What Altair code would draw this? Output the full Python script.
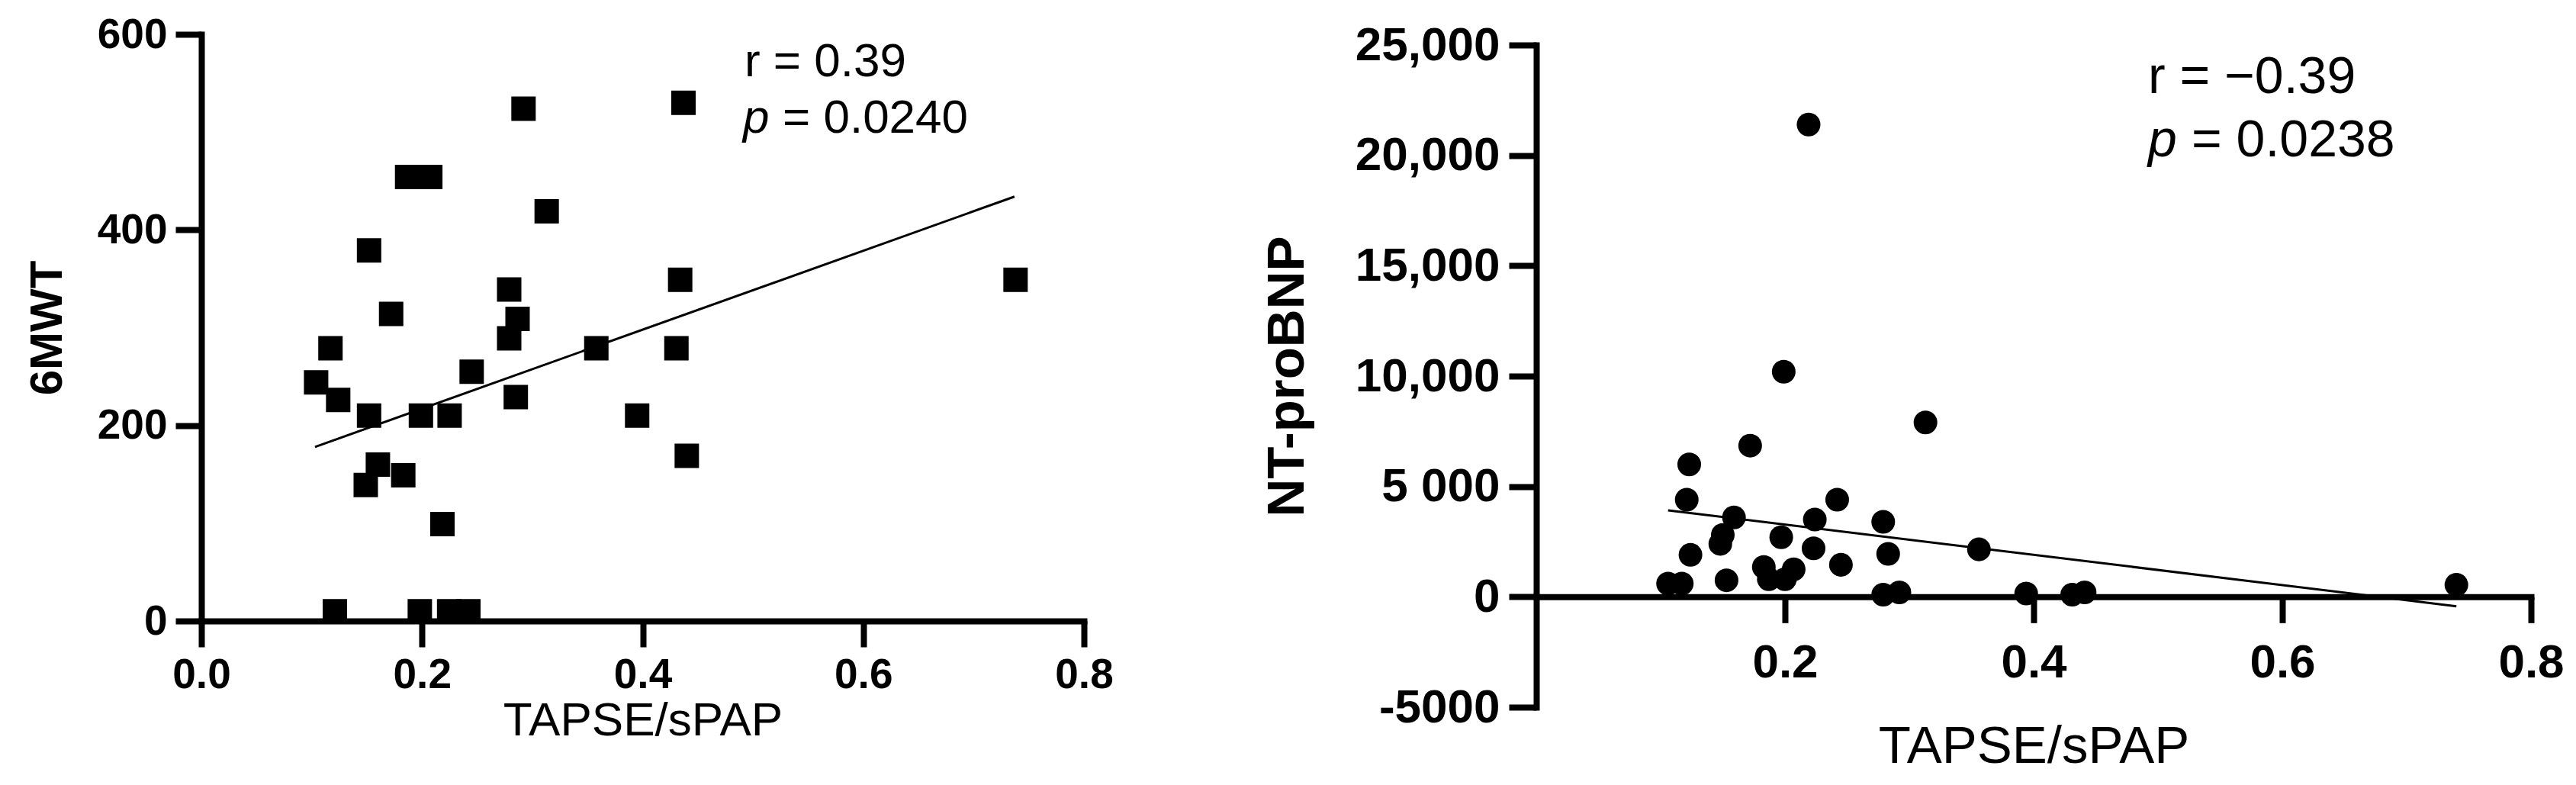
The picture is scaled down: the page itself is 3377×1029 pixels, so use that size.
import altair as alt
import pandas as pd

# ---------------- data ----------------
# Left panel: TAPSE/sPAP vs 6MWT
tapse_6mwt = [0.104, 0.117, 0.124, 0.149, 0.152, 0.152, 0.160, 0.172, 0.183, 0.1865,
              0.2075, 0.199, 0.2185, 0.225, 0.245, 0.279, 0.279, 0.2866, 0.285, 0.292,
              0.313, 0.358, 0.395, 0.4306, 0.434, 0.437, 0.440, 0.738, 0.121, 0.198,
              0.2246, 0.242]
mwt6 = [244, 279, 226, 139, 210, 379, 160, 314, 149, 454,
        454, 210, 99, 210, 255, 339, 289, 309, 229, 524,
        419, 279, 210, 279, 349, 530, 169, 349, 10, 10,
        10, 10]
# fitted line as drawn in the figure (end points)
fit_left_x = [0.103, 0.737]
fit_left_y = [178, 434]

# Right panel: TAPSE/sPAP vs NT-proBNP
tapse_bnp = [0.219, 0.199, 0.313, 0.172, 0.123, 0.121, 0.242, 0.159, 0.224, 0.279,
             0.150, 0.148, 0.197, 0.223, 0.356, 0.124, 0.283, 0.245, 0.183, 0.207,
             0.187, 0.200, 0.153, 0.106, 0.117, 0.740, 0.279, 0.292, 0.394, 0.431,
             0.441]
ntprobnp = [21400, 10200, 7900, 6850, 6000, 4400, 4400, 3600, 3500, 3400,
            2800, 2400, 2700, 2200, 2150, 1900, 1950, 1450, 1350, 1250,
            800, 800, 750, 600, 600, 550, 100, 200, 150, 100,
            200]
fit_right_x = [0.106, 0.740]
fit_right_y = [3920, -430]

left_r_text = ["r = 0.39"]
left_p_value = ["= 0.0240"]
right_r_text = ["r = \u22120.39"]
right_p_value = ["= 0.0238"]
p_letter = ["p"]

x_ticks_left = [0.0, 0.2, 0.4, 0.6, 0.8]
y_ticks_left = [0, 200, 400, 600]
x_ticks_right = [0.2, 0.4, 0.6, 0.8]
y_ticks_right = [-5000, 0, 5000, 10000, 15000, 20000, 25000]
y_labels_right = ["-5000", "0", "5 000", "10,000", "15,000", "20,000", "25,000"]

FONT = "Liberation Sans"
LW, LH = 1157, 769
RW, RH = 1304, 868
RTOP = 14  # right plot area starts a little lower than the left one

# ---------------- left panel ----------------
left_df = pd.DataFrame({"x": tapse_6mwt, "y": mwt6})
left_fit = pd.DataFrame({"x": fit_left_x, "y": fit_left_y})

lx = alt.X("x:Q", scale=alt.Scale(domain=[0, 0.8], nice=False, zero=False),
           axis=alt.Axis(values=x_ticks_left, format=".1f", title="TAPSE/sPAP",
                         labelFontSize=55, labelFontWeight="bold", tickSize=34,
                         labelPadding=10, titleFontSize=62, titleFontWeight="normal",
                         titlePadding=2, labelFlush=False, labelLimit=0))
ly = alt.Y("y:Q", scale=alt.Scale(domain=[0, 600], nice=False),
           axis=alt.Axis(values=y_ticks_left, format="d", title="6MWT",
                         labelFontSize=55, labelFontWeight="bold", tickSize=34,
                         labelPadding=11, titleFontSize=60, titleFontWeight="bold",
                         titlePadding=34, labelFlush=False, labelLimit=0))

l_pts = alt.Chart(left_df).mark_square(size=1024, color="black", opacity=1).encode(x=lx, y=ly)
l_reg = alt.Chart(left_fit).mark_line(color="black", strokeWidth=3).encode(x=lx, y=ly)


def txt(values, xpx, ypx, size, style="normal"):
    return alt.Chart(pd.DataFrame({"t": values})).mark_text(
        align="left", baseline="alphabetic", font=FONT, fontSize=size,
        fontStyle=style, color="black").encode(
        x=alt.value(xpx), y=alt.value(ypx), text="t:N")


left = alt.layer(
    l_pts, l_reg,
    txt(left_r_text, 712, 55, 62),
    txt(p_letter, 710, 129, 62, "italic"),
    txt(left_p_value, 762, 129, 62),
).properties(width=LW, height=LH)

# ---------------- right panel ----------------
right_df = pd.DataFrame({"x": tapse_bnp, "y": ntprobnp})
right_fit = pd.DataFrame({"x": fit_right_x, "y": fit_right_y})
label_expr = " : ".join(f"datum.value == {v} ? '{l}'" for v, l in zip(y_ticks_right, y_labels_right)) + " : ''"

rx = alt.X("x:Q", scale=alt.Scale(domain=[0, 0.8], nice=False, zero=False),
           axis=alt.Axis(values=x_ticks_right, format=".1f", title="TAPSE/sPAP",
                         labelFontSize=62, labelFontWeight="bold", tickSize=34,
                         labelPadding=22, titleFontSize=69, titleFontWeight="normal",
                         titlePadding=45, offset=-RH * 5000 / 30000, labelFlush=False,
                         labelLimit=0))
ry = alt.Y("y:Q", scale=alt.Scale(domain=[-5000, 25000], nice=False, zero=False,
                                  range=[RH + RTOP, RTOP]),
           axis=alt.Axis(values=y_ticks_right, labelExpr=label_expr, title="NT-proBNP",
                         labelFontSize=62, labelFontWeight="bold", tickSize=36,
                         labelPadding=12, titleFontSize=69, titleFontWeight="bold",
                         titlePadding=92, labelFlush=False, labelLimit=0))

r_pts = alt.Chart(right_df).mark_circle(size=962, color="black", opacity=1).encode(x=rx, y=ry)
r_reg = alt.Chart(right_fit).mark_line(color="black", strokeWidth=3).encode(x=rx, y=ry)

right = alt.layer(
    r_pts, r_reg,
    txt(right_r_text, 802, 63 + RTOP, 68),
    txt(p_letter, 802, 146 + RTOP, 68, "italic"),
    txt(right_p_value, 859, 146 + RTOP, 68),
).properties(width=RW, height=RH + RTOP)

chart = (alt.hconcat(left, right, spacing=193)
         .properties(padding={"left": 24, "top": 10, "right": 5, "bottom": 5})
         .configure_view(stroke=None)
         .configure_axis(domainColor="black", tickColor="black", labelColor="black",
                         titleColor="black", grid=False, domainWidth=8, tickWidth=8,
                         labelFont=FONT, titleFont=FONT, domainCap="square"))

chart.save("out.html", embed_options={"renderer": "svg", "actions": False})
